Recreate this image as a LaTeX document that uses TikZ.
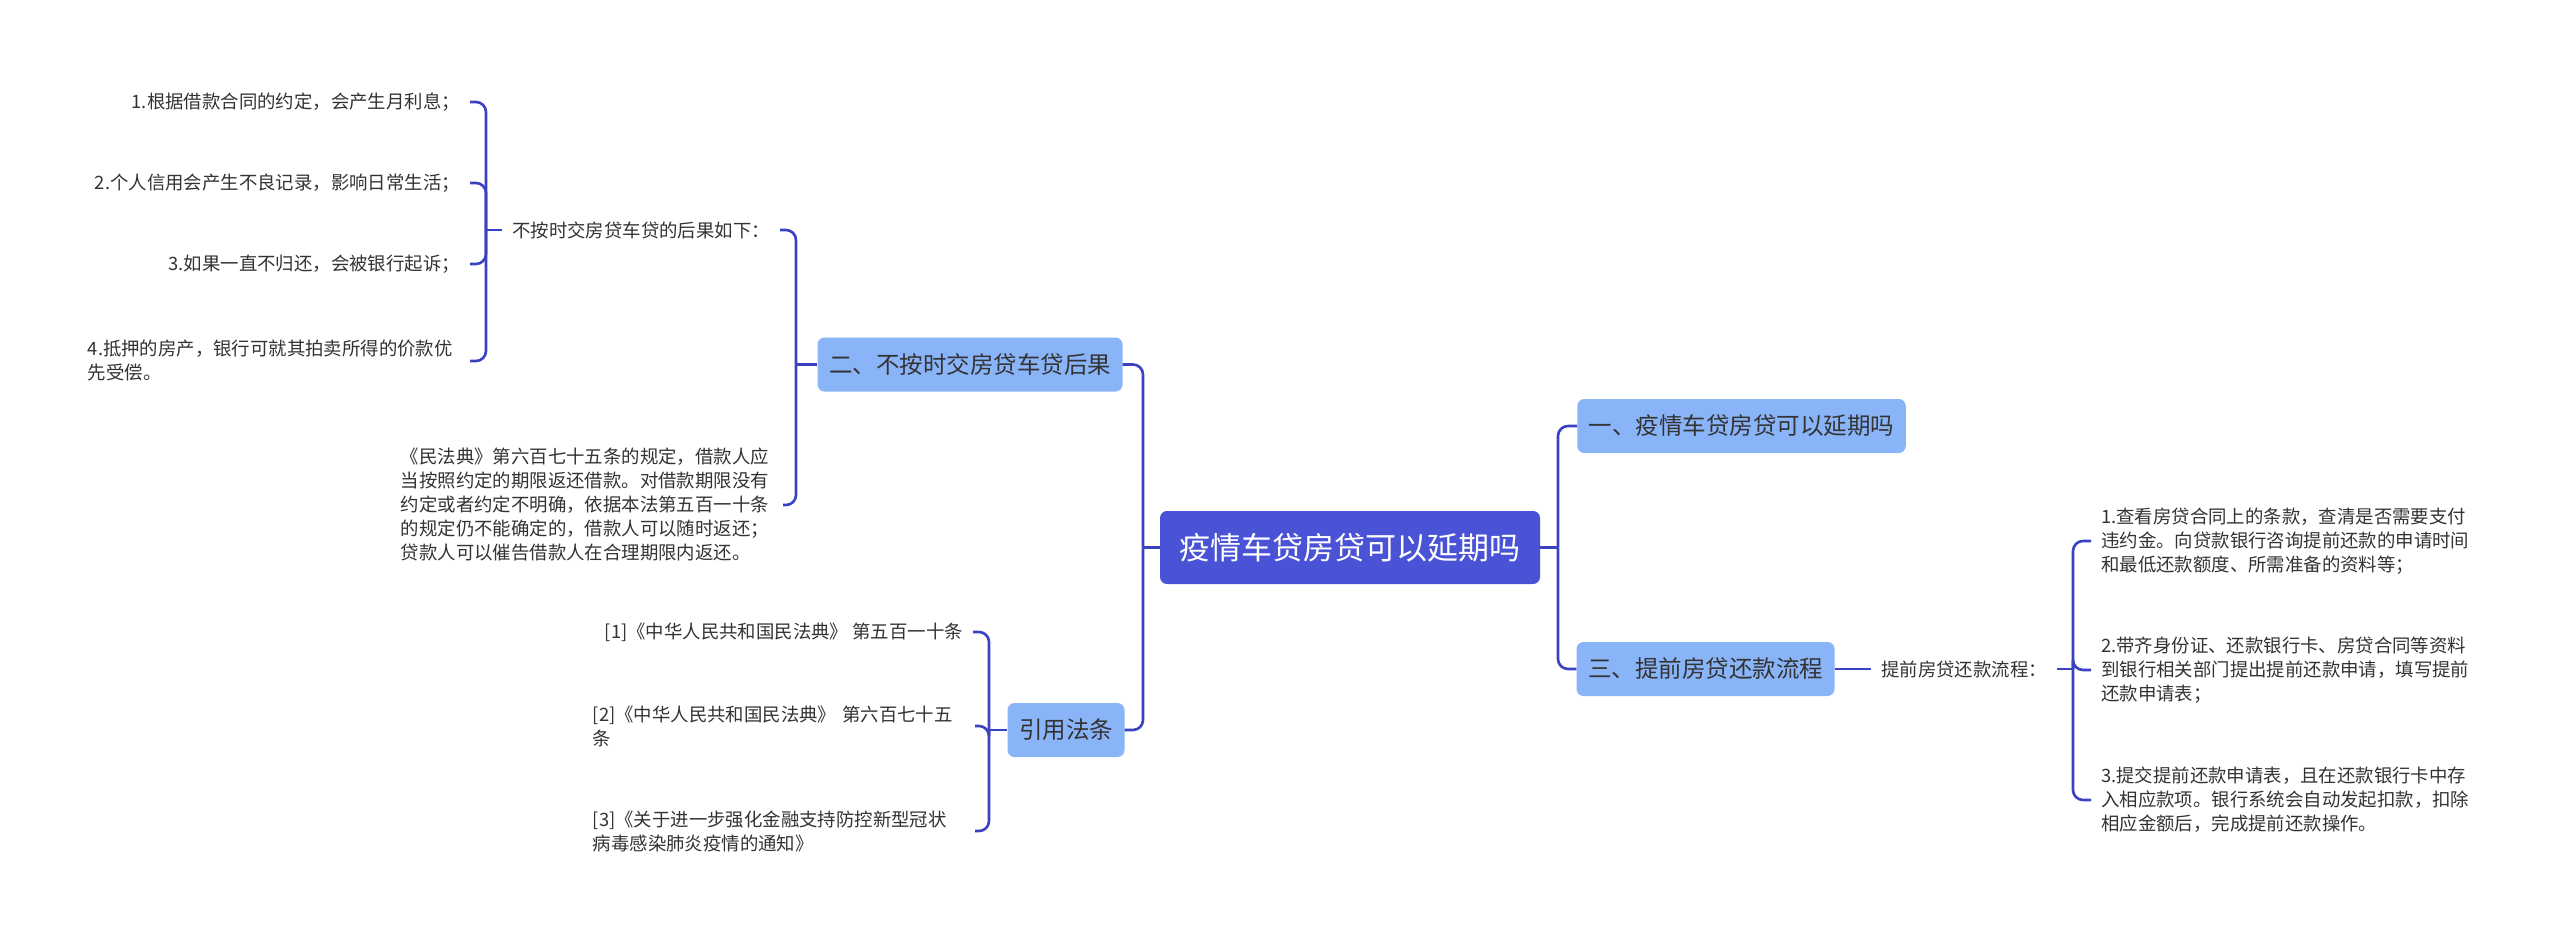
\documentclass[tikz,border=0pt]{standalone}
\usepackage{fontspec}
\setmainfont{Noto Sans CJK SC}
\definecolor{rootc}{HTML}{4A52D6}
\definecolor{topc}{HTML}{8AB4F8}
\definecolor{linec}{HTML}{3A42C2}
\definecolor{txt}{HTML}{333333}
\tikzset{
  rootbox/.style={rectangle, rounded corners=7pt, fill=rootc, text=white,
    font=\fontsize{31}{36}\selectfont, minimum width=380pt, minimum height=73pt, inner sep=0pt},
  topicbox/.style={rectangle, rounded corners=7pt, fill=topc, text=txt,
    font=\fontsize{23.5}{28}\selectfont, minimum height=54pt, inner xsep=11.5pt, inner ysep=0pt},
  leaf/.style={text=txt, font=\fontsize{18.4}{24}\selectfont, inner xsep=10pt, inner ysep=2pt},
  conn/.style={draw=linec, line width=2.6pt, rounded corners=10pt},
}
\begin{document}
\begin{tikzpicture}[x=1pt,y=-1pt]
\useasboundingbox[fill=white] (0,0) rectangle (2560,943);
% root and topics
\node[rootbox] (root) at (1350,547.5) {疫情车贷房贷可以延期吗};
\node[topicbox] (b1) at (1741.5,426) {一、疫情车贷房贷可以延期吗};
\node[topicbox] (b3) at (1705.5,669) {三、提前房贷还款流程};
\node[topicbox] (b2) at (970,364.5) {二、不按时交房贷车贷后果};
\node[topicbox] (b4) at (1066,730) {引用法条};
% left branch 二
\node[leaf, anchor=center] (c21) at (641,230) {不按时交房贷车贷的后果如下：};
\node[leaf, anchor=east, text width=372pt, align=left] (c22) at (783,505)
  {《民法典》第六百七十五条的规定，借款人应\\当按照约定的期限返还借款。对借款期限没有\\约定或者约定不明确，依据本法第五百一十条\\的规定仍不能确定的，借款人可以随时返还；\\贷款人可以催告借款人在合理期限内返还。};
\node[leaf, anchor=east] (l1) at (470,102) {1.根据借款合同的约定，会产生月利息；};
\node[leaf, anchor=east] (l2) at (470,183) {2.个人信用会产生不良记录，影响日常生活；};
\node[leaf, anchor=east] (l3) at (470,264) {3.如果一直不归还，会被银行起诉；};
\node[leaf, anchor=east, text width=372pt, align=left] (l4) at (470,361)
  {4.抵押的房产，银行可就其拍卖所得的价款优\\先受偿。};
% citations
\node[leaf, anchor=east] (r1) at (973,632) {[1]《中华人民共和国民法典》~第五百一十条};
\node[leaf, anchor=east, text width=372pt, align=left] (r2) at (975,726)
  {[2]《中华人民共和国民法典》~第六百七十五\\条};
\node[leaf, anchor=east, text width=372pt, align=left] (r3) at (975,831)
  {[3]《关于进一步强化金融支持防控新型冠状\\病毒感染肺炎疫情的通知》};
% right branch 三
\node[leaf, anchor=west] (c31) at (1871,669) {提前房贷还款流程：};
\node[leaf, anchor=west, text width=372pt, align=left] (s1) at (2091,541)
  {1.查看房贷合同上的条款，查清是否需要支付\\违约金。向贷款银行咨询提前还款的申请时间\\和最低还款额度、所需准备的资料等；};
\node[leaf, anchor=west, text width=372pt, align=left] (s2) at (2091,670)
  {2.带齐身份证、还款银行卡、房贷合同等资料\\到银行相关部门提出提前还款申请，填写提前\\还款申请表；};
\node[leaf, anchor=west, text width=372pt, align=left] (s3) at (2091,800)
  {3.提交提前还款申请表，且在还款银行卡中存\\入相应款项。银行系统会自动发起扣款，扣除\\相应金额后，完成提前还款操作。};
% junctions
\coordinate (jL) at (1143,547.5);
\coordinate (jR) at (1558,547.5);
\coordinate (j2) at (796,364.5);
\coordinate (j21) at (486,230);
\coordinate (j4) at (989,730);
\coordinate (j3) at (2073,669);
% connectors
\draw[conn] (root.west) -- (jL);
\draw[conn] (jL) |- (b2.east);
\draw[conn] (jL) |- (b4.east);
\draw[conn] (root.east) -- (jR);
\draw[conn] (jR) |- (b1.west);
\draw[conn] (jR) |- (b3.west);
\draw[conn] (b2.west) -- (j2);
\draw[conn] (j2) |- (c21.east);
\draw[conn] (j2) |- (c22.east);
\draw[conn] (c21.west) -- (j21);
\draw[conn] (j21) |- (l1.east);
\draw[conn] (j21) |- (l2.east);
\draw[conn] (j21) |- (l3.east);
\draw[conn] (j21) |- (l4.east);
\draw[conn] (b4.west) -- (j4);
\draw[conn] (j4) |- (r1.east);
\draw[conn] (j4) |- (r2.east);
\draw[conn] (j4) |- (r3.east);
\draw[conn] (b3.east) -- (c31.west);
\draw[conn] (c31.east) -- (j3);
\draw[conn] (j3) |- (s1.west);
\draw[conn] (j3) |- (s2.west);
\draw[conn] (j3) |- (s3.west);
\end{tikzpicture}
\end{document}
